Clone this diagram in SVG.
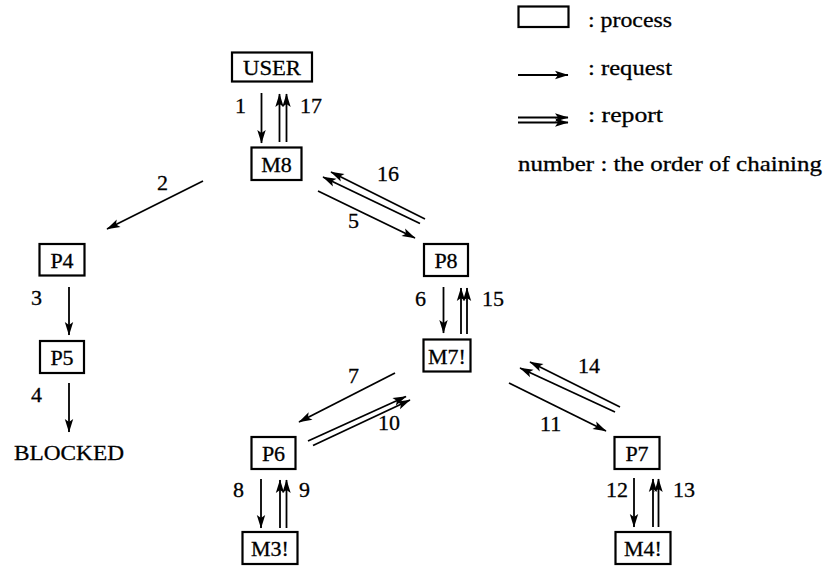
<svg xmlns="http://www.w3.org/2000/svg" width="825" height="567" viewBox="0 0 825 567">
  <style>
    text { font-family: "Liberation Serif", "Times New Roman", serif; font-size: 22px; fill: #000; stroke: #000; stroke-width: 0.3; }
    .lbl { text-anchor: middle; }
    .box { fill: #fff; stroke: #000; stroke-width: 2.2; }
    .req { stroke: #000; stroke-width: 1.8; fill: none; marker-end: url(#head); }
    .rep { stroke: #000; stroke-width: 1.8; fill: none; marker-end: url(#head); }
  </style>
  <defs>
    <marker id="head" markerUnits="userSpaceOnUse" viewBox="-14 -5 15 10" refX="0" refY="0" markerWidth="15" markerHeight="10" orient="auto">
      <path d="M0.5,0 L-13,-4.2 L-10,0 L-13,4.2 Z" fill="#000"/>
    </marker>
  </defs>

  <rect width="825" height="567" fill="#fff"/>

  <!-- legend -->
  <g id="legend">
    <rect class="box" x="518.5" y="6.5" width="50" height="20.5"/>
    <text x="588" y="27" textLength="84" lengthAdjust="spacingAndGlyphs">: process</text>
    <line class="req" x1="518" y1="75" x2="568" y2="75"/>
    <text x="588" y="75" textLength="84" lengthAdjust="spacingAndGlyphs">: request</text>
    <line class="rep" x1="518" y1="117.5" x2="568" y2="117.5"/>
    <line class="rep" x1="518" y1="122.5" x2="568" y2="122.5"/>
    <text x="588" y="122" textLength="75" lengthAdjust="spacingAndGlyphs">: report</text>
    <text x="518" y="171" textLength="304" lengthAdjust="spacingAndGlyphs">number : the order of chaining</text>
  </g>

  <!-- processes -->
  <g id="USER"><rect class="box" x="232" y="52.5" width="80" height="29"/><text class="lbl" x="272" y="75" textLength="58" lengthAdjust="spacingAndGlyphs">USER</text></g>
  <g id="M8"><rect class="box" x="251.5" y="147.5" width="50" height="32.5"/><text class="lbl" x="276.5" y="171.5">M8</text></g>
  <g id="P4"><rect class="box" x="39.5" y="244" width="45" height="31.5"/><text class="lbl" x="62" y="267.5">P4</text></g>
  <g id="P5"><rect class="box" x="40" y="341" width="44" height="32"/><text class="lbl" x="62" y="364.5">P5</text></g>
  <g id="BLOCKED"><text x="14" y="460" textLength="110" lengthAdjust="spacingAndGlyphs">BLOCKED</text></g>
  <g id="P8"><rect class="box" x="424" y="244" width="44" height="32"/><text class="lbl" x="446" y="267.5">P8</text></g>
  <g id="M7"><rect class="box" x="423.5" y="339.5" width="47" height="32"/><text class="lbl" x="447" y="363.5">M7!</text></g>
  <g id="P6"><rect class="box" x="251.5" y="437" width="44" height="32"/><text class="lbl" x="273.5" y="460.5">P6</text></g>
  <g id="P7"><rect class="box" x="614.5" y="437" width="45" height="32"/><text class="lbl" x="637" y="460.5">P7</text></g>
  <g id="M3"><rect class="box" x="242.5" y="532" width="55" height="32"/><text class="lbl" x="270" y="555.5">M3!</text></g>
  <g id="M4"><rect class="box" x="615.5" y="532" width="55" height="32"/><text class="lbl" x="643" y="555.5">M4!</text></g>

  <!-- connectors: single line = request, double line = report -->
  <g id="connectors">
    <line class="req" x1="261.5" y1="93" x2="261.5" y2="143"/>
    <line class="rep" x1="279.5" y1="142" x2="279.5" y2="94"/>
    <line class="rep" x1="286.5" y1="142" x2="286.5" y2="94"/>

    <line class="req" x1="203" y1="181" x2="107" y2="229"/>
    <line class="req" x1="69" y1="287" x2="69" y2="335"/>
    <line class="req" x1="69" y1="383" x2="69" y2="432"/>

    <line class="req" x1="318" y1="191" x2="415" y2="238"/>
    <line class="rep" x1="425" y1="219" x2="331" y2="172"/>
    <line class="rep" x1="420" y1="223.5" x2="323" y2="177"/>

    <line class="req" x1="443.5" y1="287" x2="443.5" y2="333"/>
    <line class="rep" x1="461" y1="334" x2="461" y2="288"/>
    <line class="rep" x1="467" y1="334" x2="467" y2="288"/>

    <line class="req" x1="395" y1="373" x2="299" y2="422"/>
    <line class="rep" x1="308" y1="441" x2="406" y2="396.5"/>
    <line class="rep" x1="313" y1="445.5" x2="410" y2="400"/>

    <line class="req" x1="509" y1="383" x2="606" y2="431"/>
    <line class="rep" x1="620" y1="407" x2="530" y2="362"/>
    <line class="rep" x1="615" y1="412" x2="520" y2="368"/>

    <line class="req" x1="261" y1="479" x2="261" y2="528"/>
    <line class="rep" x1="280" y1="528" x2="280" y2="480"/>
    <line class="rep" x1="286.5" y1="528" x2="286.5" y2="480"/>

    <line class="req" x1="634" y1="478" x2="634" y2="527"/>
    <line class="rep" x1="653" y1="527" x2="653" y2="479"/>
    <line class="rep" x1="658.5" y1="527" x2="658.5" y2="479"/>
  </g>

  <!-- chaining order numbers -->
  <g id="numbers">
    <text x="235" y="113">1</text>
    <text x="300" y="113">17</text>
    <text x="157" y="190">2</text>
    <text x="31" y="305">3</text>
    <text x="31" y="402">4</text>
    <text x="348" y="228">5</text>
    <text x="377" y="181">16</text>
    <text x="415" y="306">6</text>
    <text x="482" y="306">15</text>
    <text x="348" y="383">7</text>
    <text x="378" y="430">10</text>
    <text x="540" y="431">11</text>
    <text x="578" y="373">14</text>
    <text x="233" y="497">8</text>
    <text x="299" y="497">9</text>
    <text x="606" y="497">12</text>
    <text x="673" y="497">13</text>
  </g>
</svg>
